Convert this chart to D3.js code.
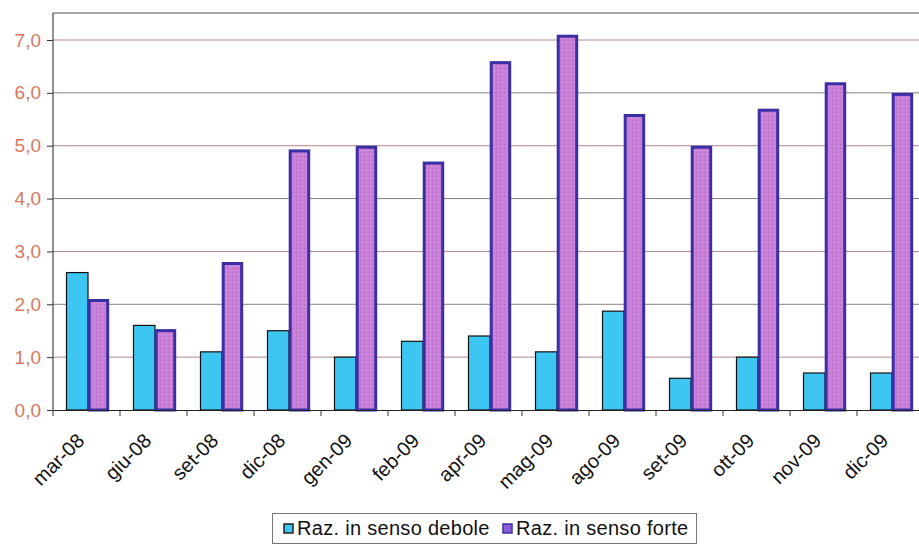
<!DOCTYPE html>
<html><head><meta charset="utf-8">
<script src="https://cdn.jsdelivr.net/npm/d3@7/dist/d3.min.js"></script>
<style>body{margin:0;background:#fff;}svg{display:block;}</style>
</head><body><svg id="c" width="919" height="544"></svg>
<script>
const categories = ["mar-08","giu-08","set-08","dic-08","gen-09","feb-09","apr-09","mag-09","ago-09","set-09","ott-09","nov-09","dic-09"];
const debole = [2.6,1.6,1.1,1.5,1.0,1.3,1.4,1.1,1.87,0.6,1.0,0.7,0.7];
const forte  = [2.1,1.53,2.8,4.93,5.0,4.7,6.6,7.1,5.6,5.0,5.7,6.2,6.0];
const yTicks = [0,1,2,3,4,5,6,7];
const seriesNames = ["Raz. in senso debole","Raz. in senso forte"];

(function(){
const svg = d3.select("#c");
const FONT = "Liberation Sans, Arial, sans-serif";
const mLeft = 53, mTop = 13, mBottom = 410, mRight = 924;
const x = d3.scaleBand().domain(categories).range([mLeft, mRight]).paddingInner(0).paddingOuter(0);
const y = d3.scaleLinear().range([mBottom, mTop]);
y.domain([0, 7 * (mBottom - mTop) / (mBottom - 40)]);

const defs = svg.append("defs");
const pat = defs.append("pattern").attr("id","tex").attr("width",4).attr("height",4).attr("patternUnits","userSpaceOnUse");
pat.append("rect").attr("width",4).attr("height",4).attr("fill","#c97ed8");
pat.append("rect").attr("x",0).attr("y",0).attr("width",1).attr("height",1).attr("fill","#b06cc9");
pat.append("rect").attr("x",2).attr("y",2).attr("width",1).attr("height",1).attr("fill","#d99be3");

svg.append("g").selectAll("line").data(yTicks.filter(d=>d>0)).join("line")
  .attr("x1", mLeft).attr("x2", 919).attr("y1", d=>y(d)).attr("y2", d=>y(d))
  .attr("stroke", (d,i)=> i%2 ? "#8a8080" : "#b08a8a").attr("stroke-width", 1);
svg.append("line").attr("x1",mLeft).attr("x2",919).attr("y1",mTop).attr("y2",mTop).attr("stroke","#555").attr("stroke-width",1.2);

const bw = 21.5;
const g = svg.append("g");
categories.forEach((c,i)=>{
  const cx = x(c) + x.bandwidth()/2 + 1.5;
  g.append("rect").attr("x", cx - bw).attr("y", y(debole[i])).attr("width", bw).attr("height", y(0)-y(debole[i]))
    .attr("fill","#3ec6f2").attr("stroke","#111").attr("stroke-width",1.2);
  g.append("rect").attr("x", cx + 1.2).attr("y", y(forte[i]) + 1.5).attr("width", bw - 3).attr("height", y(0)-y(forte[i]) - 1.5)
    .attr("fill","url(#tex)").attr("stroke","#3b2fa6").attr("stroke-width",3);
});

const ya = svg.append("g").attr("transform",`translate(${mLeft},0)`)
  .call(d3.axisLeft(y).tickValues(yTicks).tickSize(6).tickPadding(6).tickFormat(d=>d3.format(".1f")(d).replace(".",",")));
ya.select(".domain").attr("stroke","#222").attr("d",`M0,${mTop}V${mBottom}`);
ya.selectAll(".tick line").attr("stroke","#333");
ya.selectAll("text").attr("fill","#d9785e").attr("font-family",FONT).attr("font-size",19);

const xa = svg.append("g").attr("transform",`translate(0,${mBottom})`)
  .call(d3.axisBottom(x).tickSize(0).tickFormat(d=>d));
xa.select(".domain").attr("stroke","#222");
svg.append("g").selectAll("line").data(categories).join("line")
  .attr("x1", d=>x(d)).attr("x2", d=>x(d)).attr("y1", mBottom).attr("y2", mBottom+6).attr("stroke","#333");
xa.selectAll("text").attr("font-family",FONT).attr("font-size",20).attr("fill","#111")
  .attr("text-anchor","end").attr("y",0).attr("dy",0).attr("transform", "translate(-1,32) rotate(-45)");

const lg = svg.append("g");
lg.append("rect").attr("x",272.5).attr("y",513.5).attr("width",424).attr("height",30).attr("fill","#fff").attr("stroke","#777");
const lx = [284, 503];
const colors = [["#3ec6f2","#222"],["#8a5fd8","#3b2fa6"]];
seriesNames.forEach((n,i)=>{
  lg.append("rect").attr("x",lx[i]).attr("y",524).attr("width",9).attr("height",9).attr("fill",colors[i][0]).attr("stroke",colors[i][1]).attr("stroke-width",1.5);
  lg.append("text").attr("x",lx[i]+13).attr("y",535).text(n).attr("font-family",FONT).attr("font-size",20).attr("letter-spacing",0.3).attr("fill","#111");
});
})();
</script></body></html>
